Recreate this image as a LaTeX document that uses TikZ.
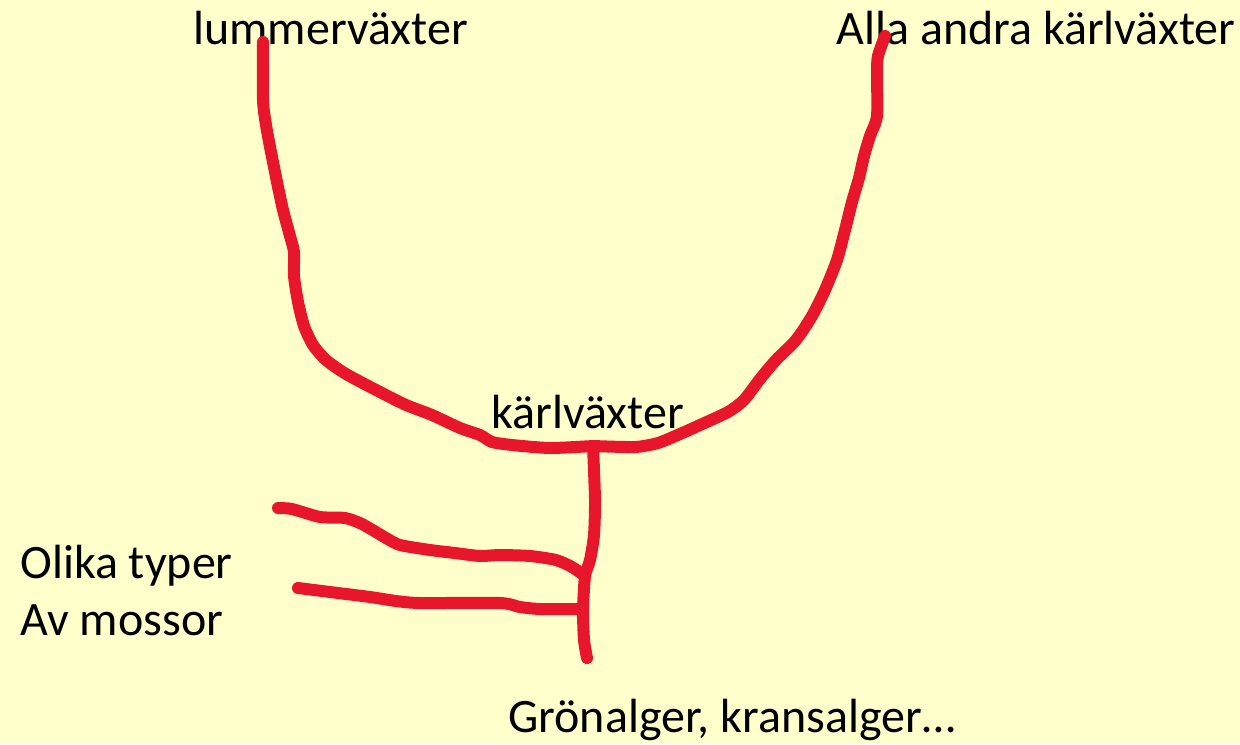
\documentclass[tikz,border=0pt]{standalone}
\usepackage{fontspec}
\setmainfont{Carlito}
\usetikzlibrary{calc}
\definecolor{bgyellow}{RGB}{255,255,204}
\definecolor{penred}{RGB}{232,22,42}

\begin{document}
\begin{tikzpicture}[x=0.5pt,y=-0.5pt,
    branch/.style={draw=penred,line width=6pt,line cap=round,line join=round},
    lbl/.style={anchor=base west,inner sep=0pt,font=\fontsize{24}{28}\selectfont}]
    \fill[bgyellow] (0,0) rectangle (1240,744);
    \useasboundingbox (0,0) rectangle (1240,744);
    % labels
    \node[lbl] (lummer) at (193,44) {lummerväxter};
    \node[lbl] (andra) at (836,44) {Alla andra kärlväxter};
    \node[lbl] (karl) at (491,428) {kärlväxter};
    \node[lbl] (olika) at (20,578) {Olika typer};
    \node[lbl] (mossor) at (20,635) {Av mossor};
    \node[lbl] (alger) at (508,732) {Grönalger, kransalger…};
    % branch points
    \coordinate (lumtip) at (263,42);
    \coordinate (andtip) at (885,36);
    \coordinate (knot) at (593,446);
    \coordinate (mossknot) at (585,576);
    \coordinate (mossa) at (278,508);
    \coordinate (mossb) at (298,588);
    \coordinate (algtip) at (587,658);
    % left and right arms
    \draw[branch] plot[smooth,tension=0.4] coordinates {(lumtip) (263,100) (266,125) (271,152)
        (277,182) (283,210) (290,236) (294,252) (294,276) (298,302) (304,326) (313,345)
        (326,360) (346,374) (380,392) (406,405) (432,415) (460,428) (480,435) (492,442)
        (512,445) (550,448) (knot)};
    \draw[branch] plot[smooth,tension=0.4] coordinates {(andtip) (878,56) (877,72) (877,116)
        (870,136) (864,156) (859,178) (852,202) (845,230) (837,260) (825,290) (812,316)
        (796,340) (776,360) (760,379) (744,400) (728,412) (700,425) (680,434) (658,443)
        (635,447) (knot)};
    % stem
    \draw[branch] plot[smooth,tension=0.4] coordinates {(knot) (595,500) (594,535) (590,560)
        (mossknot) (583,610) (584,640) (algtip)};
    % mosses
    \draw[branch] plot[smooth,tension=0.4] coordinates {(mossa) (292,509) (320,517) (345,518)
        (362,524) (386,538) (400,545) (430,550) (455,553) (480,556) (500,555) (530,556)
        (556,560) (572,567) (mossknot)};
    \draw[branch] plot[smooth,tension=0.4] coordinates {(mossb) (330,592) (370,597) (396,601)
        (420,603) (500,603) (520,607) (540,609) (583,609)};
\end{tikzpicture}
\end{document}
